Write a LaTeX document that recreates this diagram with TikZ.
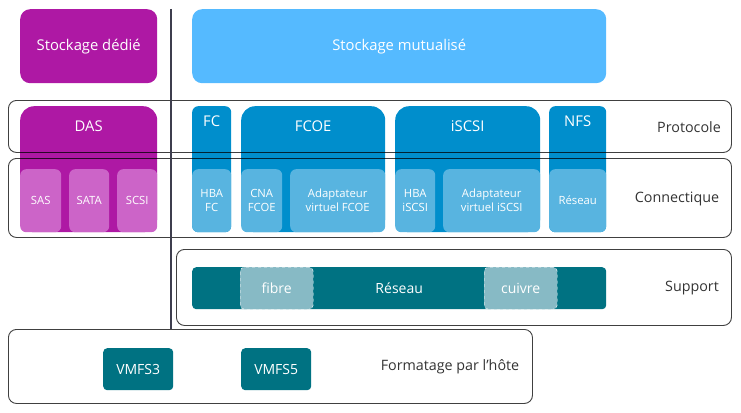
\documentclass[tikz,border=0pt]{standalone}
\usepackage{fontspec}
\setmainfont{Open Sans}
\definecolor{violetfonce}{RGB}{174,24,164}
\definecolor{violetclair}{RGB}{204,100,200}
\definecolor{bleuciel}{RGB}{85,186,255}
\definecolor{bleufonce}{RGB}{0,142,204}
\definecolor{bleuclair}{RGB}{88,180,224}
\definecolor{sarcelle}{RGB}{0,114,130}
\definecolor{sarcelleclair}{RGB}{135,186,197}
\definecolor{trait}{RGB}{62,62,78}
\begin{document}
\begin{tikzpicture}[x=1pt, y=-1pt,
    bloc/.style={rounded corners=10pt, inner sep=0pt, anchor=north west, text=white,
      font=\fontsize{14.8}{17}\selectfont},
    sousbloc/.style={rounded corners=6pt, inner sep=0pt, anchor=north west, text=white,
      minimum height=63pt, align=center, font=\fontsize{11.3}{14}\selectfont},
    titre/.style={text=white, inner sep=0pt, font=\fontsize{14.8}{17}\selectfont},
    cable/.style={rounded corners=4pt, inner sep=0pt, anchor=north west, fill=sarcelleclair,
      draw=white, dashed, text=white, minimum width=73pt, minimum height=42pt,
      font=\fontsize{14}{16}\selectfont},
    rang/.style={text=black!80, inner sep=0pt, font=\fontsize{14.3}{16}\selectfont},
    cadre/.style={rounded corners=8pt, anchor=north west, inner sep=0pt,
      draw=black, draw opacity=0.75, line width=0.9pt}]

  \useasboundingbox (0,0) rectangle (741,412);

  % stockage
  \node[bloc, fill=violetfonce, minimum width=137pt, minimum height=74pt] (dedie) at (20,9) {Stockage dédié};
  \node[bloc, fill=bleuciel, minimum width=414pt, minimum height=74pt] (mutualise) at (192,9) {Stockage mutualisé};

  % protocoles
  \node[bloc, rounded corners=14pt, fill=violetfonce, minimum width=137pt, minimum height=126pt] (das) at (20,106) {};
  \node[bloc, rounded corners=6pt, fill=bleufonce, minimum width=39pt, minimum height=126pt] (fc) at (192,106) {};
  \node[bloc, rounded corners=14pt, fill=bleufonce, minimum width=144pt, minimum height=126pt] (fcoe) at (241,106) {};
  \node[bloc, rounded corners=14pt, fill=bleufonce, minimum width=145pt, minimum height=126pt] (iscsi) at (395,106) {};
  \node[bloc, rounded corners=6pt, fill=bleufonce, minimum width=57pt, minimum height=126pt] (nfs) at (549,106) {};

  \node[titre] (dastitre) at ([yshift=-20pt]das.north) {DAS};
  \node[titre] (fctitre) at ([yshift=-15pt]fc.north) {FC};
  \node[titre] (fcoetitre) at ([yshift=-20pt]fcoe.north) {FCOE};
  \node[titre] (iscsititre) at ([yshift=-20pt]iscsi.north) {iSCSI};
  \node[titre] (nfstitre) at ([yshift=-15pt]nfs.north) {NFS};

  % connectique
  \foreach \n/\x/\w/\t in {sas/20/41/SAS, sata/69/40/SATA, scsi/117/40/SCSI}
    \node[sousbloc, fill=violetclair, minimum width=\w pt] (\n) at (\x,169) {\t};
  \foreach \n/\x/\w/\t in {hbafc/192/39/HBA\\FC, cna/241/41/CNA\\FCOE, vfcoe/290/95/Adaptateur\\virtuel FCOE,
      hbaiscsi/395/40/HBA\\iSCSI, viscsi/443/97/Adaptateur\\virtuel iSCSI, reseaunfs/549/57/Réseau}
    \node[sousbloc, fill=bleuclair, minimum width=\w pt] (\n) at (\x,169) {\t};

  % support
  \node[bloc, rounded corners=4pt, fill=sarcelle, minimum width=414pt, minimum height=42pt,
    font=\fontsize{14}{16}\selectfont] (reseau) at (192,267) {Réseau};
  \node[cable] (fibre) at (240,267) {fibre};
  \node[cable] (cuivre) at (484,267) {cuivre};

  % formatage
  \node[bloc, rounded corners=4pt, fill=sarcelle, minimum width=70pt, minimum height=42pt,
    font=\fontsize{14}{16}\selectfont] (vmfs3) at (103,348) {VMFS3};
  \node[bloc, rounded corners=4pt, fill=sarcelle, minimum width=70pt, minimum height=42pt,
    font=\fontsize{14}{16}\selectfont] (vmfs5) at (241,348) {VMFS5};

  % cadres des niveaux
  \node[cadre, minimum width=723pt, minimum height=52pt] (cprotocole) at (8,100) {};
  \node[cadre, minimum width=723pt, minimum height=79pt] (cconnectique) at (8,158) {};
  \node[cadre, minimum width=555pt, minimum height=76pt] (csupport) at (176,249) {};
  \node[cadre, minimum width=524pt, minimum height=74pt] (cformatage) at (8,329) {};

  \node[rang] (protocole) at (689,127) {Protocole};
  \node[rang] (connectique) at (677,199) {Connectique};
  \node[rang] (support) at (692,288) {Support};
  \node[rang] (formatage) at (450,367) {Formatage par l’hôte};

  % separation
  \coordinate (septop) at (171,9);
  \coordinate (sepbas) at (171,329);
  \draw[trait, line width=2.8pt] (septop) -- (sepbas);

\end{tikzpicture}
\end{document}
